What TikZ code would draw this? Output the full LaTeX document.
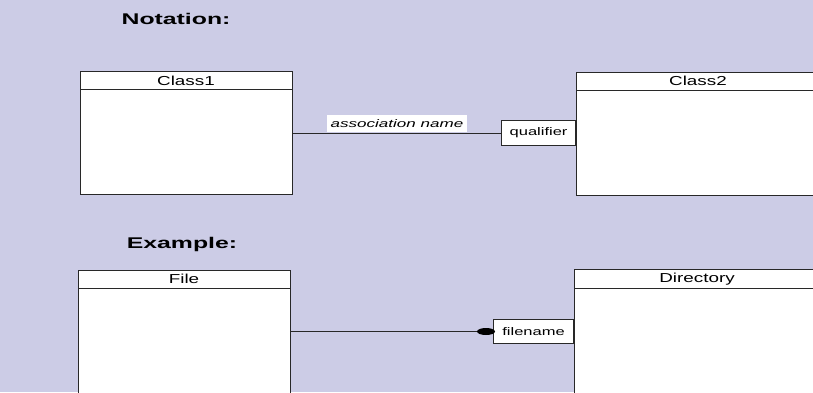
\documentclass[tikz,border=0pt]{standalone}
\usepackage{fontspec}
\setmainfont{Liberation Sans}
\definecolor{bgpanel}{RGB}{204,204,230}
\definecolor{edge}{RGB}{40,40,40}
\begin{document}
\begin{tikzpicture}[x=1pt,y=-1pt,
  classbox/.style={draw=edge,fill=white,line width=0.9pt},
  link/.style={draw=edge,line width=0.9pt},
  title/.style={font=\fontsize{15.5}{16}\selectfont\bfseries,inner sep=0pt},
  cname/.style={font=\fontsize{13}{14}\selectfont,inner sep=0pt},
  small/.style={font=\fontsize{11}{12}\selectfont,inner sep=0pt}]
\useasboundingbox (0,0) rectangle (813,392);
\clip (0,0) rectangle (813,392);
\fill[bgpanel] (0,0) rectangle (813,392);

% section titles
\node[title] (tnot) at (176,19) {\scalebox{1.6}[1]{Notation:}};
\node[title] (tex) at (182,244) {\scalebox{1.6}[1]{Example:}};

% notation: two classes joined by a qualified association
\draw[classbox] (80,71) rectangle (292,194);
\draw[link] (80,89) -- (292,89);
\node[cname] (c1) at (186,80.5) {\scalebox{1.45}[1]{Class1}};
\coordinate (c1e) at (292,133);

\draw[classbox] (576,72) rectangle (822,195);
\draw[link] (576,90) -- (822,90);
\node[cname] (c2) at (698,81) {\scalebox{1.45}[1]{Class2}};

\node[draw=edge,fill=white,line width=0.9pt,minimum width=74pt,minimum height=25pt,inner sep=0pt,anchor=east]
  (q1) at (576,133) {\fontsize{11}{12}\selectfont\scalebox{1.5}[1]{qualifier}};
\draw[link] (c1e) -- (q1.west);
\node[fill=white,minimum width=140pt,minimum height=16.5pt,inner sep=0pt] (an) at (397,123.3)
  {\fontsize{11}{12}\selectfont\itshape\scalebox{1.55}[1]{association name}};

% example: File qualified by filename within Directory
\draw[classbox] (78,270) rectangle (290,400);
\draw[link] (78,288.5) -- (290,288.5);
\node[cname] (cf) at (184,279) {\scalebox{1.45}[1]{File}};
\coordinate (cfe) at (290,331.5);

\draw[classbox] (574,269.5) rectangle (822,400);
\draw[link] (574,288.5) -- (822,288.5);
\node[cname] (cd) at (697,279) {\scalebox{1.45}[1]{Directory}};

\node[draw=edge,fill=white,line width=0.9pt,minimum width=80pt,minimum height=24pt,inner sep=0pt,anchor=east]
  (q2) at (574,331.5) {\fontsize{11}{12}\selectfont\scalebox{1.5}[1]{filename}};
\coordinate (dot) at (486,331.5);
\draw[link] (cfe) -- (dot);
\fill[black] (dot) ellipse [x radius=9pt, y radius=3.5pt];
\end{tikzpicture}
\end{document}
